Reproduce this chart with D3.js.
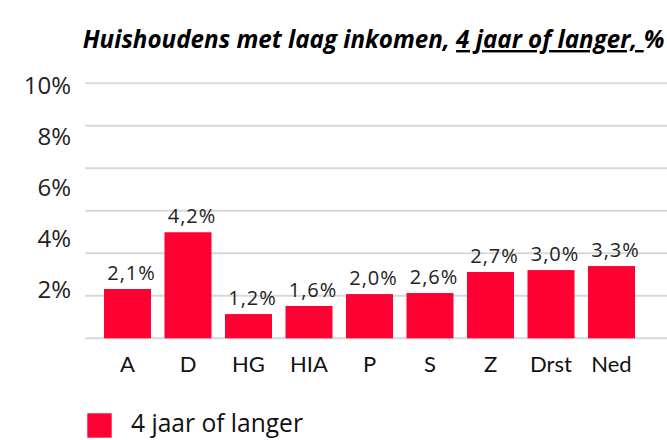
<!DOCTYPE html>
<html><head><meta charset="utf-8">
<script src="https://cdn.jsdelivr.net/npm/d3@7"></script>
<style>
body{margin:0;background:#fff;}
svg{display:block;}
</style></head>
<body><svg id="c" width="667" height="440"></svg>
<script>
// ---- data ----
const categories = ["A","D","HG","HIA","P","S","Z","Drst","Ned"];
const valueLabels = ["2,1%","4,2%","1,2%","1,6%","2,0%","2,6%","2,7%","3,0%","3,3%"];
// bar heights as drawn in the picture (on the gridline scale)
const barValues = [2.32, 4.99, 1.14, 1.52, 2.08, 2.13, 3.12, 3.21, 3.40];
const gridValues = [0, 2, 4, 6, 8, 10, 12];
const tickValues = [2, 4, 6, 8, 10];
const tickLabels = ["2%","4%","6%","8%","10%"];
const seriesName = "4 jaar of langer";
const titleMain = "Huishoudens met laag inkomen, ";
const titleUnderlined = "4 jaar of langer, ";
const titleEnd = "%";

const RED = "#ff0033";
const GRID = "#d9d9d9";
const svg = d3.select("#c");

const x = d3.scaleBand().domain(categories).range([97.25, 641.75])
  .paddingInner(0.223).paddingOuter(0.1115);
const y = d3.scaleLinear().domain([0, 12]).range([338.3, 83.3]);
const yLab = d3.scaleLinear().domain([0, 10]).range([340, 86]);

// gridlines
svg.append("g").selectAll("line").data(gridValues).join("line")
  .attr("x1", 85).attr("x2", 667)
  .attr("y1", d => y(d)).attr("y2", d => y(d))
  .attr("stroke", GRID).attr("stroke-width", 2);

// y tick labels
svg.append("g").selectAll("text").data(tickValues).join("text")
  .attr("x", 71).attr("y", d => yLab(d))
  .attr("dy", "0.35em")
  .attr("text-anchor", "end")
  .attr("font-family", "'Open Sans', sans-serif")
  .attr("font-size", 24).attr("fill", "#222")
  .text((d, i) => tickLabels[i]);

// bars
svg.append("g").selectAll("rect").data(categories).join("rect")
  .attr("x", d => x(d)).attr("width", x.bandwidth())
  .attr("y", (d, i) => y(barValues[i]))
  .attr("height", (d, i) => y(0) - y(barValues[i]))
  .attr("fill", RED);

// value labels
svg.append("g").selectAll("text").data(categories).join("text")
  .attr("x", d => x(d) + x.bandwidth() / 2 + 4)
  .attr("y", (d, i) => y(barValues[i]) - 9)
  .attr("text-anchor", "middle")
  .attr("font-family", "'Open Sans', sans-serif")
  .attr("font-size", 20).attr("letter-spacing", 1).attr("fill", "#222")
  .text((d, i) => valueLabels[i]);

// category labels
svg.append("g").selectAll("text").data(categories).join("text")
  .attr("x", d => x(d) + x.bandwidth() / 2)
  .attr("y", 372.3)
  .attr("text-anchor", "middle")
  .attr("font-family", "Lato, sans-serif")
  .attr("font-size", 22).attr("fill", "#111")
  .text(d => d);

// title
const title = svg.append("text")
  .attr("x", 82.7).attr("y", 48)
  .attr("font-family", "'Open Sans', sans-serif")
  .attr("font-weight", "bold").attr("font-style", "italic")
  .attr("font-size", 21).attr("fill", "#000");
title.append("tspan").text(titleMain);
title.append("tspan").attr("text-decoration", "underline").text(titleUnderlined);
title.append("tspan").text(titleEnd);
const tl = title.node().getComputedTextLength();
if (tl > 0) title.attr("font-size", 21 * 582 / tl);

// legend
svg.append("rect").attr("x", 87.3).attr("y", 413.3).attr("width", 24.4).attr("height", 24.4).attr("fill", RED);
const leg = svg.append("text").attr("x", 131).attr("y", 431.7)
  .attr("font-family", "'Open Sans', sans-serif").attr("font-size", 21).attr("fill", "#111")
  .text(seriesName);
const ll = leg.node().getComputedTextLength();
if (ll > 0) leg.attr("font-size", 21 * 172 / ll);
</script></body></html>
